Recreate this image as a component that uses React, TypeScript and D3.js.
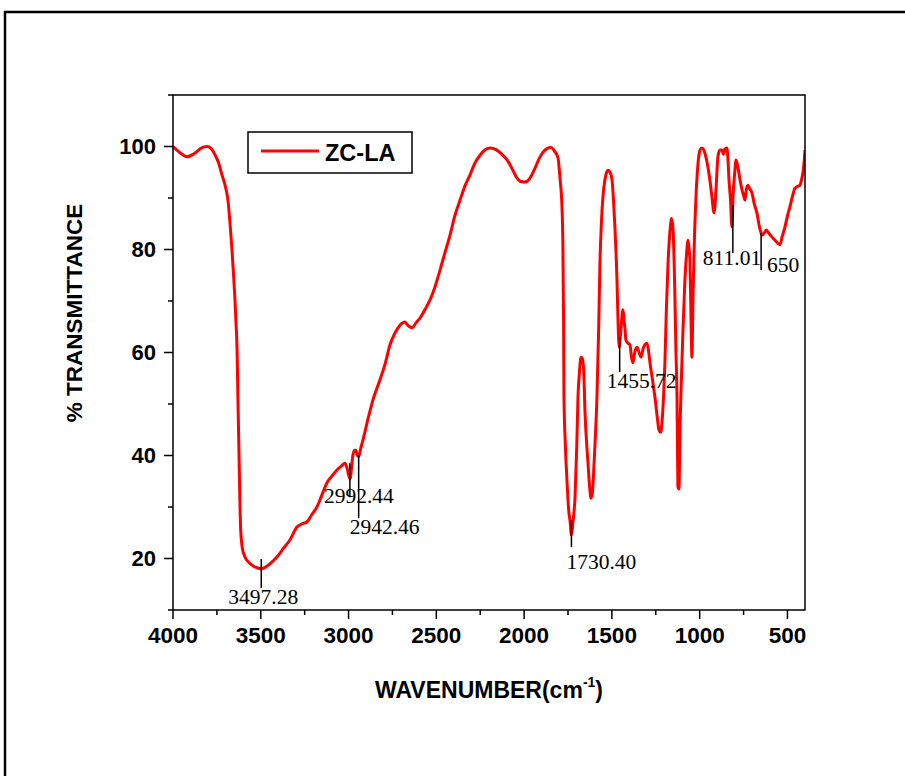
import React, { useMemo } from "react";
import * as d3 from "d3";

// FTIR spectrum of ZC-LA: wavenumber (cm-1) and % transmittance
const wavenumber = [
  4000, 3960, 3920, 3880, 3840, 3806, 3780, 3761, 3740, 3721, 3700, 3687, 3675, 3664, 3655, 3647,
  3640, 3635, 3630, 3625, 3620, 3615, 3605, 3590, 3570, 3545, 3522, 3497, 3470, 3440, 3408, 3370,
  3334, 3294, 3260, 3237, 3210, 3180, 3150, 3123, 3095, 3066, 3040, 3020, 3008, 2998, 2990, 2982,
  2975, 2965, 2958, 2950, 2942, 2930, 2918, 2890, 2861, 2821, 2790, 2764, 2735, 2707, 2679, 2660,
  2639, 2615, 2593, 2565, 2536, 2510, 2479, 2450, 2422, 2395, 2365, 2335, 2308, 2280, 2251, 2220,
  2194, 2160, 2130, 2097, 2070, 2041, 2020, 1995, 1970, 1938, 1915, 1892, 1870, 1847, 1825, 1807,
  1796, 1784, 1779, 1775, 1773, 1765, 1756, 1745, 1739, 1730, 1722, 1710, 1700, 1693, 1685, 1676,
  1668, 1660, 1653, 1645, 1636, 1627, 1619, 1612, 1605, 1595, 1585, 1575, 1568, 1560, 1551, 1540,
  1530, 1522, 1510, 1499, 1490, 1482, 1476, 1471, 1465, 1458, 1452, 1445, 1437, 1430, 1425, 1420,
  1408, 1397, 1388, 1380, 1370, 1357, 1345, 1334, 1320, 1300, 1290, 1283, 1270, 1255, 1240, 1232,
  1222, 1215, 1205, 1198, 1190, 1180, 1168, 1160, 1152, 1145, 1141, 1135, 1129, 1124, 1118, 1112,
  1103, 1095, 1084, 1075, 1066, 1060, 1055, 1050, 1044, 1038, 1030, 1021, 1010, 998, 987, 970,
  953, 940, 930, 918, 907, 896, 885, 873, 865, 856, 845, 838, 833, 825, 816, 810,
  800, 793, 782, 770, 759, 750, 742, 735, 725, 715, 702, 690, 674, 660, 645, 630,
  620, 611, 590, 571, 555, 543, 530, 514, 500, 486, 470, 457, 440, 429, 420, 412,
  405, 400,
];

const transmittance = [
  100, 98.8, 98.0, 98.6, 99.7, 100, 99.5, 98.4, 96.8, 94.5, 92, 89.6, 85, 79.9, 75, 70.2,
  65, 60.5, 50.8, 42, 33, 26, 22, 20.3, 19.3, 18.6, 18.2, 18.0, 18.4, 19.2, 20.3, 22,
  23.6, 26.1, 26.8, 27.1, 28.5, 30, 32.5, 34.7, 36, 37.2, 38, 38.5, 37.5, 36, 35.4, 38,
  40.1, 41, 41, 40, 39.8, 41.5, 43, 47, 50.8, 54.7, 58, 61.5, 63.8, 65.3, 65.9, 65.2,
  64.8, 65.8, 66.7, 68.3, 70.2, 72.5, 76, 79.5, 82.8, 86.5, 89.6, 92.5, 94.5, 96.8, 98.3, 99.4,
  99.7, 99.4, 98.6, 97.4, 95.8, 93.9, 93.2, 93.1, 93.7, 95.8, 97.6, 98.9, 99.6, 99.8, 99, 97.8,
  94, 88, 80.5, 65, 51.4, 42, 35.2, 29, 27.5, 24.5, 27, 31.9, 42, 51.4, 56, 59.1,
  58.8, 56, 48.3, 43, 38.5, 34, 31.7, 32.5, 36, 43, 51.4, 65, 77.4, 85, 90.2, 93.5,
  95, 95.4, 95, 93.5, 89, 83.8, 79, 74.1, 66, 61, 63, 66, 68.3, 66, 64.4, 62.4,
  61.8, 61.5, 59, 58, 60, 61, 60, 59.1, 61, 61.8, 60, 58, 55, 51.4, 47, 45,
  44.5, 46.3, 52, 58, 68, 77.4, 84, 86, 84, 77, 70.8, 60, 51.4, 34, 33.5, 45,
  56, 64.4, 74.1, 79, 81.8, 80, 77.4, 68, 59.1, 70.8, 82, 90.2, 96.5, 99.3, 99.7, 98.7,
  96, 93, 90.2, 87.1, 91.6, 98, 99.3, 99.3, 98.5, 99.5, 99.7, 97, 93.5, 90, 84.4, 90.2,
  95, 97.4, 96, 93.5, 91.6, 90.5, 89.6, 91.5, 92.5, 91.8, 91, 89, 87.1, 84.5, 82.8, 83.3,
  83.8, 83.4, 82.5, 81.8, 81.2, 80.9, 82.5, 84.4, 86.5, 88.3, 90.5, 91.9, 92.3, 92.5, 93.5, 94.9,
  97, 99.3,
];

// Labelled absorption bands
const peakLabels = ["3497.28", "2992.44", "2942.46", "1730.40", "1455.72", "811.01", "650"];
const peakWavenumbers = [3497.28, 2992.44, 2942.46, 1730.4, 1455.72, 811.01, 650];
const peakMarkTop = [19.9, 38.5, 40.1, 27.5, 63, 88.6, 83.2];
const peakMarkBottom = [14.3, 31.9, 27.9, 22.2, 56.2, 79.3, 76];

const xMajorTicks = [4000, 3500, 3000, 2500, 2000, 1500, 1000, 500];
const xMinorTicks = [3750, 3250, 2750, 2250, 1750, 1250, 750];
const yMajorTicks = [20, 40, 60, 80, 100];
const yMinorTicks = [10, 30, 50, 70, 90, 110];

const seriesName = "ZC-LA";

export default function App() {
  const W = 905;
  const H = 776;
  const left = 173;
  const right = 805;
  const top = 95;
  const bottom = 610;

  const x = useMemo(() => d3.scaleLinear().domain([4000, 400]).range([left, right]), []);
  const y = useMemo(() => d3.scaleLinear().domain([10, 110]).range([bottom, top]), []);

  const points = wavenumber.map((w, i) => [w, transmittance[i]] as [number, number]);
  const line = d3
    .line<[number, number]>()
    .x((d) => x(d[0]))
    .y((d) => y(d[1]))
    .curve(d3.curveMonotoneX);

  // label placement relative to the bottom of each marker line (px)
  const labelDx = [-33, -26, -9, -5, -13, -30, 6];
  const labelDy = [16, 6, 16, 22, 16, 12, 2];

  const sans = "'Liberation Sans', Arial, Helvetica, sans-serif";
  const serif = "'Liberation Serif', 'Times New Roman', serif";

  return (
    <svg
      width={W}
      height={H}
      viewBox={`0 0 ${W} ${H}`}
      style={{ position: "absolute", left: 0, top: 0, background: "#fff" }}
    >
      <rect x={0} y={0} width={W} height={H} fill="#fff" />
      {/* outer frame */}
      <rect x={5} y={12} width={1000} height={1000} fill="none" stroke="#000" strokeWidth={2.5} />

      <defs>
        <clipPath id="plotClip">
          <rect x={left} y={top} width={right - left} height={bottom - top} />
        </clipPath>
      </defs>

      {/* spectrum */}
      <path
        d={line(points) || ""}
        fill="none"
        stroke="#ff0000"
        strokeWidth={3}
        strokeLinejoin="round"
        clipPath="url(#plotClip)"
      />

      {/* axes frame */}
      <rect x={left} y={top} width={right - left} height={bottom - top} fill="none" stroke="#000" strokeWidth={1.5} />

      {/* x ticks */}
      {xMajorTicks.map((t) => (
        <g key={`xM${t}`}>
          <line x1={x(t)} x2={x(t)} y1={bottom} y2={bottom + 9} stroke="#000" strokeWidth={1.5} />
          <text
            x={x(t)}
            y={bottom + 33}
            textAnchor="middle"
            fontFamily={sans}
            fontWeight="bold"
            fontSize={22.5}
          >
            {t}
          </text>
        </g>
      ))}
      {xMinorTicks.map((t) => (
        <line key={`xm${t}`} x1={x(t)} x2={x(t)} y1={bottom} y2={bottom + 5} stroke="#000" strokeWidth={1.5} />
      ))}

      {/* y ticks */}
      {yMajorTicks.map((t) => (
        <g key={`yM${t}`}>
          <line x1={left - 9} x2={left} y1={y(t)} y2={y(t)} stroke="#000" strokeWidth={1.5} />
          <text
            x={left - 17}
            y={y(t)}
            dy="0.36em"
            textAnchor="end"
            fontFamily={sans}
            fontWeight="bold"
            fontSize={22}
          >
            {t}
          </text>
        </g>
      ))}
      {yMinorTicks.map((t) => (
        <line key={`ym${t}`} x1={left - 5} x2={left} y1={y(t)} y2={y(t)} stroke="#000" strokeWidth={1.5} />
      ))}

      {/* band markers */}
      {peakWavenumbers.map((w, i) => {
        const px = x(w);
        const yb = y(peakMarkBottom[i]);
        return (
          <g key={`pk${i}`}>
            <line x1={px} x2={px} y1={y(peakMarkTop[i])} y2={yb} stroke="#000" strokeWidth={1.5} />
            <text x={px + labelDx[i]} y={yb + labelDy[i]} fontFamily={serif} fontSize={21.5} fill="#000">
              {peakLabels[i]}
            </text>
          </g>
        );
      })}

      {/* legend */}
      <rect x={248} y={132} width={164} height={41} fill="#fff" stroke="#000" strokeWidth={1.5} />
      <line x1={261} x2={319} y1={151} y2={151} stroke="#ff0000" strokeWidth={3} />
      <text x={325} y={161} fontFamily={sans} fontWeight="bold" fontSize={23.5}>
        {seriesName}
      </text>

      {/* axis titles */}
      <text x={489} y={698} textAnchor="middle" fontFamily={sans} fontWeight="bold" fontSize={23}>
        WAVENUMBER(cm
        <tspan fontSize={14} dy={-11}>-1</tspan>
        <tspan dy={11}>)</tspan>
      </text>
      <text
        transform={`translate(82, 313) rotate(-90)`}
        textAnchor="middle"
        fontFamily={sans}
        fontWeight="bold"
        fontSize={22.5}
      >
        % TRANSMITTANCE
      </text>
    </svg>
  );
}
